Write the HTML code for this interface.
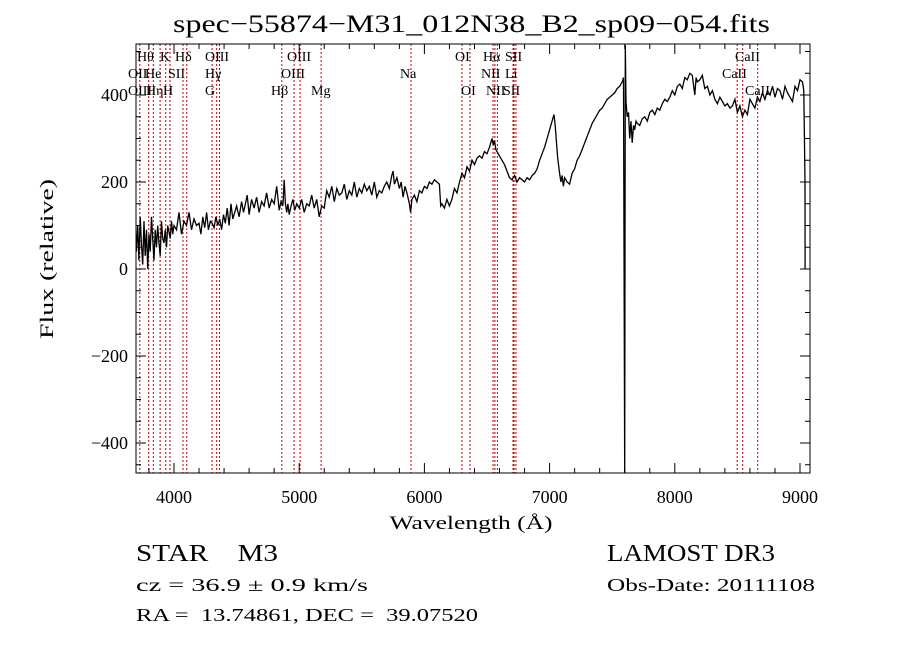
<!DOCTYPE html>
<html><head><meta charset="utf-8"><style>
body{margin:0;background:#fff}
svg{display:block;font-family:"Liberation Serif",serif}
text{white-space:pre}
</style></head><body>
<svg id="c" width="900" height="649" viewBox="0 0 900 649">
<text x="173" y="32" font-size="25" textLength="597" lengthAdjust="spacingAndGlyphs">spec−55874−M31_012N38_B2_sp09−054.fits</text>
<g id="lines"></g>
<g id="labels" font-size="14"></g>
<g id="axes"></g>
<path id="spec" fill="none" stroke="#000" stroke-width="1.3"/>
<text x="471" y="529" font-size="19" text-anchor="middle" textLength="163" lengthAdjust="spacingAndGlyphs">Wavelength (Å)</text>
<text transform="translate(53,259) rotate(-90)" font-size="19" text-anchor="middle" textLength="160" lengthAdjust="spacingAndGlyphs">Flux (relative)</text>
<text x="136" y="561" font-size="24" textLength="142" lengthAdjust="spacingAndGlyphs" xml:space="preserve">STAR    M3</text>
<text x="607" y="561" font-size="24" textLength="168" lengthAdjust="spacingAndGlyphs">LAMOST DR3</text>
<text x="136" y="591" font-size="18" textLength="232" lengthAdjust="spacingAndGlyphs">cz = 36.9 ± 0.9 km/s</text>
<text x="607" y="591" font-size="18" textLength="208" lengthAdjust="spacingAndGlyphs">Obs-Date: 20111108</text>
<text x="136" y="621" font-size="18" textLength="342" lengthAdjust="spacingAndGlyphs" xml:space="preserve">RA =  13.74861, DEC =  39.07520</text>
</svg>
<script>
const wave=[3700,3710,3720,3730,3740,3750,3760,3770,3780,3790,3800,3810,3820,3830,3840,3850,3860,3870,3880,3890,3900,3910,3920,3930,3940,3950,3960,3970,3980,3990,4000,4020,4040,4060,4080,4100,4120,4140,4160,4180,4200,4215,4230,4245,4260,4275,4290,4305,4320,4335,4350,4365,4380,4395,4410,4425,4440,4455,4470,4485,4500,4520,4540,4555,4570,4585,4600,4620,4640,4660,4680,4700,4720,4740,4760,4780,4800,4820,4840,4855,4870,4880,4890,4900,4910,4920,4935,4950,4965,4980,5000,5020,5040,5060,5080,5100,5120,5140,5160,5180,5200,5220,5240,5260,5280,5300,5320,5340,5360,5380,5400,5420,5440,5460,5480,5500,5520,5540,5560,5580,5600,5620,5640,5660,5680,5700,5720,5740,5750,5760,5780,5800,5815,5830,5845,5860,5880,5890,5900,5920,5940,5960,5980,6000,6020,6040,6060,6080,6100,6120,6130,6140,6160,6180,6200,6220,6240,6260,6280,6300,6320,6340,6360,6380,6400,6420,6440,6460,6480,6500,6520,6540,6550,6560,6570,6580,6600,6620,6640,6660,6680,6700,6720,6740,6760,6780,6800,6820,6840,6860,6880,6900,6920,6940,6960,6980,7000,7020,7035,7045,7055,7065,7080,7090,7100,7110,7120,7140,7160,7180,7200,7220,7240,7260,7280,7300,7320,7340,7360,7380,7400,7420,7440,7460,7480,7500,7520,7540,7560,7580,7590,7600,7605,7610,7620,7630,7640,7650,7660,7670,7680,7690,7700,7720,7740,7760,7780,7800,7820,7840,7860,7880,7900,7920,7940,7960,7980,8000,8020,8040,8060,8080,8100,8120,8140,8160,8170,8180,8200,8220,8240,8260,8280,8300,8320,8340,8360,8380,8400,8420,8440,8460,8480,8500,8520,8540,8560,8580,8600,8620,8640,8660,8680,8700,8720,8740,8760,8780,8800,8820,8840,8860,8880,8900,8920,8940,8960,8980,9000,9020,9030,9040,9041,9050];
const flux=[40,100,20,120,60,10,110,30,90,0,80,40,120,70,20,90,50,100,60,30,110,70,60,90,50,100,85,70,110,80,100,90,130,80,110,100,130,90,115,100,105,80,120,95,130,90,110,105,95,120,100,115,90,125,105,140,100,150,115,130,145,120,155,130,150,170,125,160,140,165,130,155,145,175,140,160,150,190,135,155,145,205,150,130,150,125,145,160,135,150,140,160,130,150,145,170,140,160,120,145,140,180,165,190,155,185,170,175,195,160,180,170,200,165,185,175,195,180,190,170,200,165,180,175,190,200,185,215,225,195,210,185,200,165,190,175,150,130,160,170,155,180,175,190,185,200,195,205,200,195,145,150,140,160,145,160,185,175,200,220,210,235,225,250,240,255,260,255,270,265,280,300,285,295,275,270,260,250,240,225,210,205,215,200,210,205,200,210,205,215,220,230,250,265,280,300,320,340,355,330,290,255,220,200,215,190,210,200,195,220,230,250,260,275,290,305,320,335,345,355,365,370,380,390,395,400,405,415,420,430,440,-470,515,385,350,360,300,340,290,330,320,340,335,330,345,350,340,360,365,355,370,365,380,390,385,395,410,400,420,425,415,440,435,450,445,400,440,430,435,445,415,420,400,410,390,380,395,385,375,380,370,375,390,360,375,350,365,355,390,380,370,395,385,405,390,410,400,420,395,415,410,390,420,405,395,385,420,410,435,430,410,200,0];
const lineW=[3727,3798,3835,3889,3934,3968,4072,4102,4304,4341,4363,4861,4959,5007,5175,5893,6300,6364,6548,6563,6583,6708,6716,6731,8498,8542,8662];
const labelText=["Hθ","K","Hδ","OIII","OIII","OI","Hα","SII","CaII","OII","He","SII","Hγ","OIII","Na","NII","Li","CaII","OIII","Hη","H","G","Hβ","Mg","OI","NII","SII","CaII"];
const labelRow=[0,0,0,0,0,0,0,0,0,1,1,1,1,1,1,1,1,1,2,2,2,2,2,2,2,2,2,2];
const labelX=[137,160,175,205,287,455,483,505,735,128,145,168,205,281,400,481,505,722,128,146,163,205,271,311,461,486,503,745];
const xTicks=[4000,5000,6000,7000,8000,9000];
const yTicks=[-400,-200,0,200,400];
const X0=136,X1=810,Y0=44,Y1=473;
const xs=w=>174+(w-4000)*0.1252;
const ys=f=>269-f*0.435;
const NS="http://www.w3.org/2000/svg";
function mk(t,p,a){const e=document.createElementNS(NS,t);for(const k in a)e.setAttribute(k,a[k]);p.appendChild(e);return e;}
let d="";
for(let i=0;i<wave.length;i++){d+=(i?"L":"M")+xs(wave[i]).toFixed(1)+","+ys(Math.max(-470,Math.min(515,flux[i]))).toFixed(1);}
document.getElementById('spec').setAttribute('d',d);
const lg=document.getElementById('lines');
for(const w of lineW){const l=mk('line',lg,{x1:xs(w),x2:xs(w),y1:Y0,y2:Y1,stroke:'#c00000','stroke-width':1,'stroke-dasharray':'2,2'});

}
const lb=document.getElementById('labels');
for(let i=0;i<labelText.length;i++){const t=mk('text',lb,{x:labelX[i],y:61+labelRow[i]*17});t.textContent=labelText[i];

}
const ax=document.getElementById('axes');
mk('rect',ax,{x:X0,y:Y0,width:X1-X0,height:Y1-Y0,fill:'none',stroke:'#000','stroke-width':1});
for(let w=3800;w<=9000;w+=200){const major=w%1000===0;const L=major?10:5;
mk('line',ax,{x1:xs(w),x2:xs(w),y1:Y1,y2:Y1-L,stroke:'#000'});
mk('line',ax,{x1:xs(w),x2:xs(w),y1:Y0,y2:Y0+L,stroke:'#000'});}
for(const w of xTicks){const t=mk('text',ax,{x:xs(w),y:503,'font-size':18,'text-anchor':'middle'});t.textContent=w;

}
for(let f=-450;f<=500;f+=50){const major=f%200===0;const L=major?10:5;
mk('line',ax,{x1:X0,x2:X0+L,y1:ys(f),y2:ys(f),stroke:'#000'});
mk('line',ax,{x1:X1,x2:X1-L,y1:ys(f),y2:ys(f),stroke:'#000'});}
for(const f of yTicks){const t=mk('text',ax,{x:128,y:ys(f)+6,'font-size':18,'text-anchor':'end'});t.textContent=f<0?"−"+(-f):f;

}
</script>
</body></html>
